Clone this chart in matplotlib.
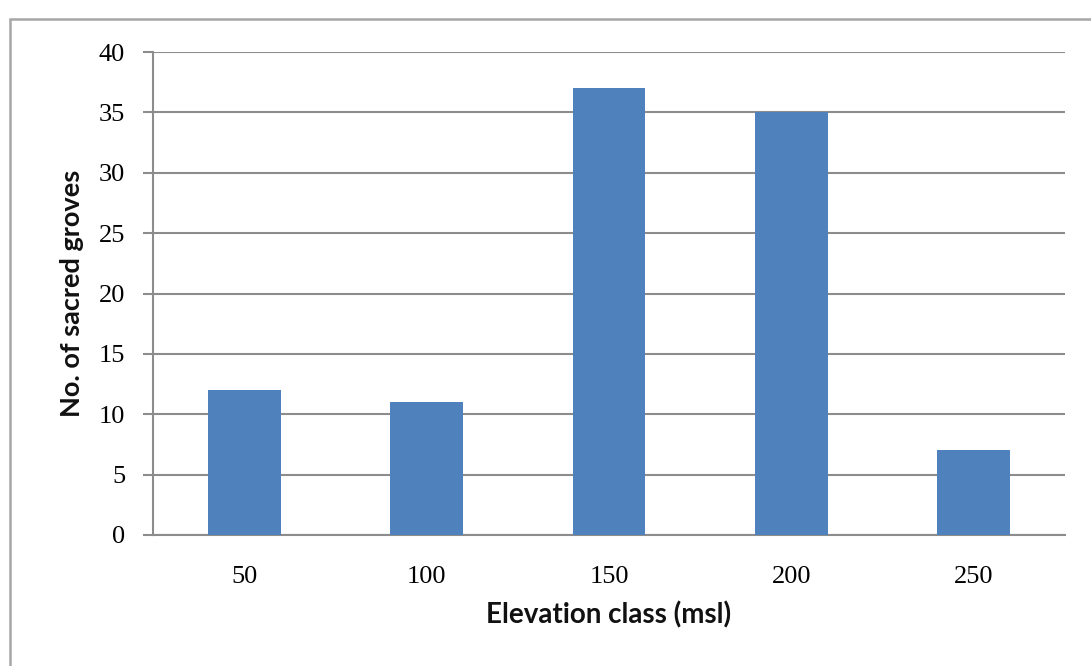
# Import libraries
import matplotlib.pyplot as plt
from matplotlib.patches import Rectangle

# Data
elevation_classes = ["50", "100", "150", "200", "250"]
grove_counts = [12, 11, 37, 35, 7]
y_ticks = [0, 5, 10, 15, 20, 25, 30, 35, 40]

fig = plt.figure(figsize=(10.91, 6.66), dpi=100)
ax = fig.add_axes([0.1402, 0.1967, 0.8360, 0.7252])

# Outer chart border (open on the right and bottom, as in the source image)
fig.patches.append(Rectangle((10 / 1091, -0.1), 1.2, 1 - 19 / 666 + 0.1,
                             transform=fig.transFigure, fill=False,
                             edgecolor="#a6a6a6", linewidth=1.8))

x = range(len(elevation_classes))
ax.bar(x, grove_counts, width=0.4, color="#4f81bd", zorder=3)

ax.set_xlim(-0.5, len(elevation_classes) - 0.5)
ax.set_ylim(0, 40)
ax.set_yticks(y_ticks)
ax.set_xticks(list(x))
ax.set_xticklabels(elevation_classes)

# Excel-like gridlines and axes
ax.yaxis.grid(True, color="#8c8c8c", linewidth=1.5, zorder=0)
for side in ["top", "right"]:
    ax.spines[side].set_visible(False)
ax.spines["left"].set_color("#8c8c8c")
ax.spines["left"].set_linewidth(1.5)
ax.spines["bottom"].set_color("#8c8c8c")
ax.spines["bottom"].set_linewidth(1.5)
ax.tick_params(axis="y", length=7, width=1.5, color="#8c8c8c", pad=13,
               labelsize=19)
ax.tick_params(axis="x", length=0, pad=22, labelsize=19)
for lbl in ax.get_xticklabels() + ax.get_yticklabels():
    lbl.set_fontfamily("Liberation Serif")
    lbl.set_color("#000000")

ax.set_xlabel("Elevation class (msl)", fontsize=20, fontweight="bold",
              family="Lato", labelpad=10, color="#111111")
ax.set_ylabel("No. of sacred groves", fontsize=19.5, fontweight="bold",
              family="Lato", labelpad=11, color="#111111")

plt.savefig("out.png", dpi=100)
